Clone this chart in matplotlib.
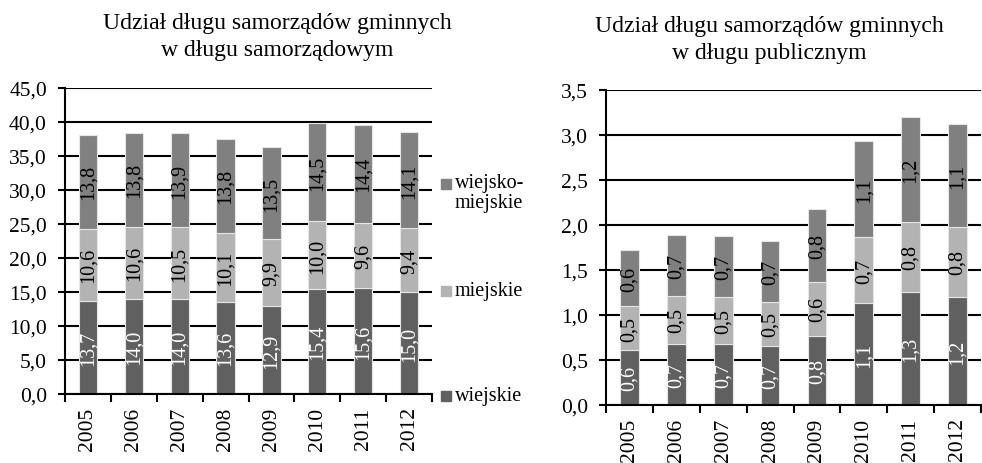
import matplotlib
matplotlib.use("Agg")
import matplotlib.pyplot as plt
import numpy as np
from matplotlib.patches import Rectangle

years = ["2005", "2006", "2007", "2008", "2009", "2010", "2011", "2012"]

# Left chart: share in local government debt (%)
left_wiejskie = [13.7, 14.0, 14.0, 13.6, 12.9, 15.4, 15.6, 15.0]
left_miejskie = [10.6, 10.6, 10.5, 10.1, 9.9, 10.0, 9.6, 9.4]
left_wm = [13.8, 13.8, 13.9, 13.8, 13.5, 14.5, 14.4, 14.1]
left_yticks = [0, 5, 10, 15, 20, 25, 30, 35, 40, 45]

# Right chart: share in public debt (%)
right_wiejskie = [0.61, 0.68, 0.68, 0.66, 0.77, 1.13, 1.26, 1.20]
right_miejskie = [0.49, 0.53, 0.52, 0.49, 0.60, 0.74, 0.77, 0.78]
right_wm = [0.62, 0.68, 0.68, 0.67, 0.81, 1.06, 1.17, 1.14]
right_yticks = [0.0, 0.5, 1.0, 1.5, 2.0, 2.5, 3.0, 3.5]

series_names = ["wiejskie", "miejskie", "wiejsko-\nmiejskie"]
series_colors = ["#606060", "#b3b3b3", "#808080"]
label_colors = ["white", "black", "black"]

title_left = "Udział długu samorządów gminnych\nw długu samorządowym"
title_right = "Udział długu samorządów gminnych\nw długu publicznym"

FONT = "Liberation Serif"
plt.rcParams["font.family"] = [FONT, "DejaVu Serif"]

W, H = 982, 464
fig = plt.figure(figsize=(W / 100, H / 100), dpi=100)


def fmt(v):
    return f"{v:.1f}".replace(".", ",")


def draw(ax, series, yticks):
    x = np.arange(len(years))
    bottom = np.zeros(len(years))
    for vals, col, lc in zip(series, series_colors, label_colors):
        bars = ax.bar(x, vals, 0.4, bottom=bottom, color=col,
                      edgecolor="#e6e6e6", linewidth=0.8, zorder=3)
        ax.bar_label(bars, labels=[fmt(v) for v in vals], label_type="center",
                     rotation=90, color=lc, fontsize=14.5, zorder=4)
        bottom = bottom + np.array(vals)
    ax.set_xlim(-0.5, len(years) - 0.5)
    ax.set_ylim(yticks[0], yticks[-1])
    ax.set_yticks(yticks)
    ax.set_yticklabels([fmt(v) for v in yticks], fontsize=15.5)
    ax.set_xticks(x)
    ax.set_xticklabels(years, rotation=90, fontsize=15.5)
    ax.set_xticks(np.arange(len(years) + 1) - 0.5, minor=True)
    ax.tick_params(axis="x", which="major", length=0, pad=9)
    ax.tick_params(axis="x", which="minor", length=6, width=1.5, direction="out")
    ax.tick_params(axis="y", length=5, width=1.5, direction="out", pad=8)
    ax.grid(axis="y", color="black", linewidth=1.5, zorder=0)
    for s in ("top", "right"):
        ax.spines[s].set_visible(False)
    for s in ("left", "bottom"):
        ax.spines[s].set_linewidth(1.5)
        ax.spines[s].set_zorder(5)


axL = fig.add_axes([65 / W, 1 - 395 / H, (432 - 65) / W, (395 - 89) / H])
draw(axL, [left_wiejskie, left_miejskie, left_wm], left_yticks)

axR = fig.add_axes([606 / W, 1 - 406 / H, (981 - 606) / W, (406 - 91) / H])
draw(axR, [right_wiejskie, right_miejskie, right_wm], right_yticks)

fig.text(277 / W, 1 - 37 / H, title_left, ha="center", va="center",
         fontsize=17, linespacing=1.35)
fig.text(769 / W, 1 - 40 / H, title_right, ha="center", va="center",
         fontsize=17, linespacing=1.35)

# Manual legend for left chart
legend_y = [397, 292, 185]
for name, col, y in zip(series_names, series_colors, legend_y):
    fig.patches.append(Rectangle((441 / W, 1 - (y + 5) / H), 10 / W, 10 / H,
                                 transform=fig.transFigure, color=col))
    if "\n" in name:
        fig.text(455 / W, 1 - (y - 11) / H, name, ha="left", va="top",
                 fontsize=14.5, linespacing=1.05)
    else:
        fig.text(455 / W, 1 - y / H, name, ha="left", va="center", fontsize=14.5)

fig.savefig("out.png", dpi=100)
